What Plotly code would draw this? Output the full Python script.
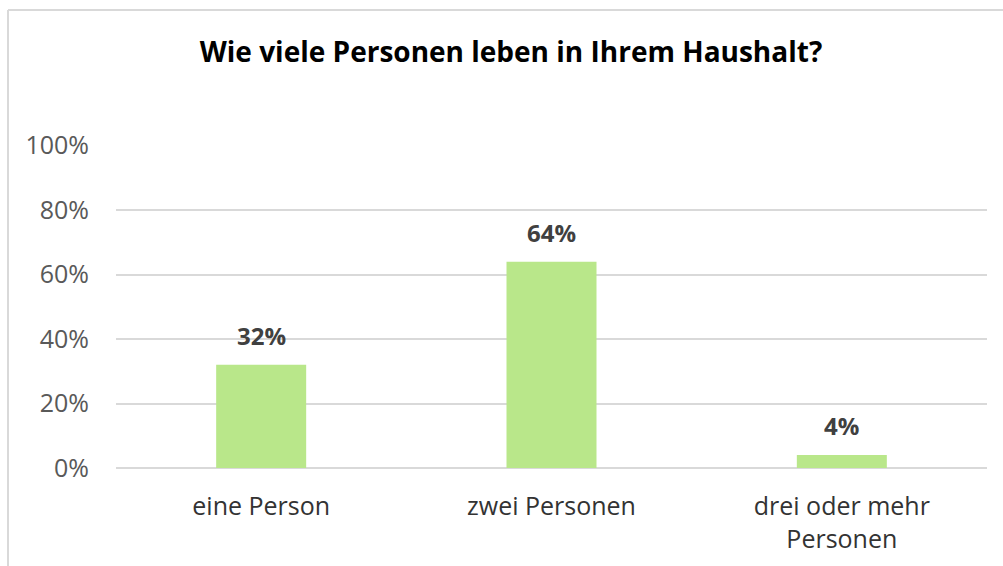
import plotly.graph_objects as go

categories = ["eine Person", "zwei Personen", "drei oder mehr<br>Personen"]
values = [0.32, 0.64, 0.04]
labels = ["32%", "64%", "4%"]
tick_vals = [0, 0.2, 0.4, 0.6, 0.8, 1.0]
tick_text = ["0%", "20%", "40%", "60%", "80%", "100%"]
title_text = "Wie viele Personen leben in Ihrem Haushalt?"

FONT = "Open Sans"
W, H = 1003, 566
L, R, T, B = 116, 16, 145, 98

fig = go.Figure()
fig.add_trace(go.Bar(
    x=categories, y=values,
    marker=dict(color="#b9e78a", line=dict(width=0)),
    width=0.31,
    hoverinfo="skip",
))

for c, v, t in zip(categories, values, labels):
    fig.add_annotation(
        x=c, y=v, text=t, showarrow=False,
        yanchor="bottom", yshift=11,
        font=dict(family=FONT, size=24, color="#404040", weight="bold"),
    )

pw = W - L - R
ph = H - T - B
# chart border (top and left edges visible)
x_left = (8 - L) / pw
y_top = (H - B - 10) / ph
fig.add_shape(type="line", xref="paper", yref="paper",
              x0=x_left, x1=(W + 5 - L) / pw, y0=y_top, y1=y_top,
              line=dict(color="#d9d9d9", width=2))
fig.add_shape(type="line", xref="paper", yref="paper",
              x0=x_left, x1=x_left, y0=y_top, y1=(H - B - H - 5) / ph,
              line=dict(color="#d9d9d9", width=2))

fig.update_layout(
    width=W, height=H,
    margin=dict(l=L, r=R, t=T, b=B, pad=0),
    paper_bgcolor="white", plot_bgcolor="white",
    showlegend=False,
    title=dict(text=title_text, x=511 / W, xanchor="center", xref="container",
               y=1 - 52 / H, yanchor="middle", yref="container",
               font=dict(family=FONT, size=28, color="#000000", weight="bold")),
    bargap=0.69,
)
fig.update_xaxes(
    showgrid=False, showline=False, zeroline=False,
    ticks="outside", ticklen=16, tickcolor="rgba(0,0,0,0)",
    tickfont=dict(family=FONT, size=25, color="#333333"),
)
fig.update_yaxes(
    range=[0, 1.002], tickvals=tick_vals, ticktext=tick_text,
    showgrid=True, gridcolor="#d9d9d9", gridwidth=1.5,
    zeroline=True, zerolinecolor="#d9d9d9", zerolinewidth=1.5,
    showline=False, ticks="outside", ticklen=21, tickcolor="rgba(0,0,0,0)",
    tickfont=dict(family=FONT, size=25, color="#595959"),
)

fig.write_html("out.html", config={"displayModeBar": False},
               post_script="document.body.style.margin='0px';")
